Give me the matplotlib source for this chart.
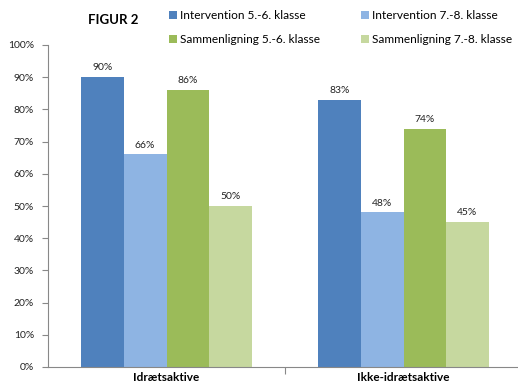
import matplotlib
matplotlib.use("Agg")
import matplotlib.pyplot as plt
import numpy as np

categories = ["Idrætsaktive", "Ikke-idrætsaktive"]
series_names = ["Intervention 5.-6. klasse", "Intervention 7.-8. klasse",
                "Sammenligning 5.-6. klasse", "Sammenligning 7.-8. klasse"]
int_56 = [90, 83]
int_78 = [66, 48]
sam_56 = [86, 74]
sam_78 = [50, 45]
colors = ["#4F81BD", "#8EB4E3", "#9BBB59", "#C6D89F"]
yticks = [0, 10, 20, 30, 40, 50, 60, 70, 80, 90, 100]

plt.rcParams['font.family'] = ['Lato', 'DejaVu Sans']

fig = plt.figure(figsize=(5.18, 3.87), dpi=100)
ax = fig.add_axes([48/518, 1-367/387, 474/518, (367-45)/387])

x = np.arange(len(categories))
bw = 0.18
all_series = [int_56, int_78, sam_56, sam_78]
handles = []
for i, (vals, c, name) in enumerate(zip(all_series, colors, series_names)):
    pos = x + (i - 1.5) * bw
    b = ax.bar(pos, vals, width=bw, color=c, label=name, zorder=2)
    handles.append(b)
    for p, v in zip(pos, vals):
        ax.text(p, v + 1.5, f"{v}%", ha="center", va="bottom", fontsize=7.5, color="#222222")

ax.set_xlim(-0.5, 1.5)
ax.set_ylim(0, 100)
ax.set_yticks(yticks)
ax.set_yticklabels([f"{t}%" for t in yticks], fontsize=7.5, color="#222222")
ax.set_xticks([0.5])
ax.set_xticklabels([""])
ax.tick_params(axis='x', length=5, color="#888888", direction='out')
ax.tick_params(axis='y', length=4, color="#888888", direction='out', pad=6)
for s in ["top", "right"]:
    ax.spines[s].set_visible(False)
for s in ["left", "bottom"]:
    ax.spines[s].set_color("#888888")
    ax.spines[s].set_linewidth(0.8)

for xi, cat in zip(x, categories):
    ax.text(xi, -1.4, cat, ha="center", va="top", fontsize=8.5, fontweight="bold",
            transform=ax.transData, clip_on=False)

fig.text(88/518, 1-20/387, "FIGUR 2", fontsize=9.5, fontweight="bold", va="center", ha="left")

order = [0, 2, 1, 3]
fig.legend(handles=[handles[k] for k in order], labels=[series_names[k] for k in order],
           loc="upper left",
           bbox_to_anchor=(169/518, 1-10/387), ncol=2, frameon=False,
           fontsize=8.6, handlelength=0.7, handleheight=0.7, handletextpad=0.25,
           columnspacing=3.4, labelspacing=1.1, borderaxespad=0, borderpad=0)

fig.savefig("out.png", dpi=100)
